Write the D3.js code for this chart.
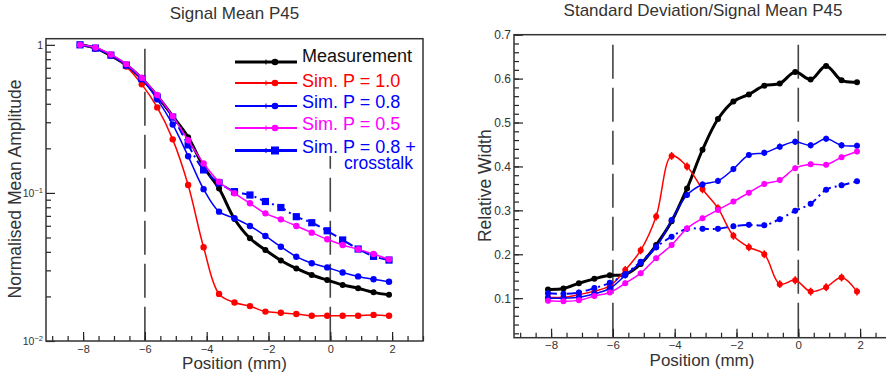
<!DOCTYPE html>
<html>
<head>
<meta charset="utf-8">
<script src="https://cdn.jsdelivr.net/npm/d3@7"></script>
<style>
  body { margin: 0; background: #fff; }
  svg { display: block; }
  text { font-family: "Liberation Sans", Arial, sans-serif; }
</style>
</head>
<body>
<div id="chart"></div>
<script>
// positions of the scan points (mm)
var positions = [-8.1, -7.6, -7.1, -6.6, -6.1, -5.6, -5.1, -4.6, -4.1, -3.6, -3.1,
                 -2.6, -2.1, -1.6, -1.1, -0.6, -0.1, 0.4, 0.9, 1.4, 1.9];

// left panel : normalised mean amplitude
var meanMeas = [1.0, 0.950, 0.846, 0.730, 0.591, 0.451, 0.330, 0.238, 0.150, 0.107, 0.0667,
                0.0494, 0.0412, 0.0350, 0.0309, 0.0279, 0.0258, 0.0239, 0.0227, 0.0213, 0.0205];
var meanP10  = [1.0, 0.943, 0.852, 0.713, 0.541, 0.378, 0.230, 0.113, 0.0430, 0.0208, 0.0182,
                0.0172, 0.0158, 0.0155, 0.0152, 0.0148, 0.0148, 0.0148, 0.0148, 0.0150, 0.0148];
var meanP08  = [1.0, 0.950, 0.852, 0.730, 0.591, 0.428, 0.290, 0.177, 0.106, 0.0747, 0.0674,
                0.0598, 0.0512, 0.0433, 0.0371, 0.0335, 0.0314, 0.0290, 0.0273, 0.0261, 0.0251];
var meanP05  = [1.0, 0.960, 0.861, 0.741, 0.599, 0.458, 0.330, 0.227, 0.158, 0.119, 0.0994,
                0.0851, 0.0728, 0.0663, 0.0598, 0.0539, 0.0486, 0.0445, 0.0416, 0.0387, 0.0356];
var meanXT   = [1.0, 0.950, 0.852, 0.730, 0.591, 0.444, 0.325, 0.211, 0.143, 0.117, 0.102,
                0.0968, 0.0875, 0.0797, 0.0691, 0.0629, 0.0555, 0.0481, 0.0418, 0.0373, 0.0352];

// right panel : standard deviation / signal mean
var rwMeas = [0.120, 0.122, 0.134, 0.144, 0.152, 0.154, 0.178, 0.221, 0.275, 0.350, 0.438,
              0.508, 0.548, 0.564, 0.584, 0.589, 0.615, 0.598, 0.629, 0.596, 0.592];
var rwP10  = [0.102, 0.102, 0.108, 0.116, 0.128, 0.164, 0.209, 0.286, 0.424, 0.400, 0.348,
              0.305, 0.242, 0.216, 0.200, 0.132, 0.141, 0.115, 0.125, 0.147, 0.115];
var rwP08  = [0.100, 0.100, 0.102, 0.110, 0.122, 0.152, 0.181, 0.216, 0.278, 0.335, 0.359,
              0.367, 0.394, 0.426, 0.431, 0.445, 0.456, 0.448, 0.463, 0.448, 0.447];
var rwP05  = [0.094, 0.093, 0.095, 0.105, 0.113, 0.134, 0.157, 0.191, 0.221, 0.259, 0.282,
              0.301, 0.320, 0.340, 0.360, 0.369, 0.396, 0.405, 0.404, 0.421, 0.434];
var rwXT   = [0.111, 0.110, 0.113, 0.123, 0.135, 0.155, 0.183, 0.216, 0.240, 0.258, 0.258,
              0.258, 0.264, 0.267, 0.266, 0.280, 0.299, 0.315, 0.347, 0.357, 0.366];
// errors on relative width (one per series: meas, P1.0, P0.8, P0.5, crosstalk)
var rwErr = [0.005, 0.009, 0.007, 0.006, 0.006];

var legendLabels = ["Measurement", "Sim. P = 1.0", "Sim. P = 0.8", "Sim. P = 0.5", "Sim. P = 0.8 +"];
var xMajor = [-8, -6, -4, -2, 0, 2];
var markerLines = [-6, 0];

// layout
var W = 886, H = 376;
var fL = { left: 46, right: 423, top: 38.7, bottom: 341 };
var fR = { left: 514, right: 891, top: 34.7, bottom: 337.7 };

var svg = d3.select("#chart").append("svg").attr("width", W).attr("height", H);

var xL = d3.scaleLinear().domain([-9.2, 3]).range([fL.left, fL.right]);
var yL = d3.scaleLog().domain([0.01, 1.1]).range([fL.bottom, fL.top]);
var xR = d3.scaleLinear().domain([-9.2, 3]).range([fR.left, fR.right]);
var yR = d3.scaleLinear().domain([0.01, 0.7]).range([fR.bottom, fR.top]);

// order: measurement, P=1.0, P=0.8, P=0.5, P=0.8+crosstalk
var styles = [
  { color: "#000000", width: 3,   r: 3,   marker: "circle", dash: null },
  { color: "#ff0000", width: 1.5, r: 3.2, marker: "circle", dash: null },
  { color: "#0000ff", width: 1.5, r: 3.2, marker: "circle", dash: null },
  { color: "#ff00ff", width: 1.5, r: 3.2, marker: "circle", dash: null },
  { color: "#0000ff", width: 2,   r: 3.6, marker: "square", dash: "9,4,2,4" }
];
var drawOrder = [0, 1, 2, 4, 3];

var fmt = function(d) { return d < 0 ? "\u2212" + (-d) : String(d); };
var minorX = d3.range(-9, 3.01, 0.5);

function styleTicks() {
  svg.selectAll(".tick line").attr("stroke", "#222").attr("stroke-width", 1.2);
}

function xAxis(x, f, fontSize, pad) {
  svg.append("g").attr("transform", "translate(0," + f.bottom + ")")
    .call(d3.axisBottom(x).tickValues(minorX).tickSize(-5).tickFormat(""))
    .call(function(g) { g.select(".domain").remove(); });
  var g = svg.append("g").attr("transform", "translate(0," + f.bottom + ")")
    .call(d3.axisBottom(x).tickValues(xMajor).tickSize(-9).tickPadding(pad).tickFormat(fmt));
  g.select(".domain").remove();
  g.selectAll("text").attr("font-size", fontSize).attr("fill", "#333").style("font-family", "Liberation Sans, Arial, sans-serif");
  styleTicks();
}

function frame(f) {
  svg.append("rect").attr("x", f.left).attr("y", f.top)
    .attr("width", f.right - f.left).attr("height", f.bottom - f.top)
    .attr("fill", "none").attr("stroke", "#333").attr("stroke-width", 1.5);
}

function vlines(x, f, top) {
  svg.selectAll(null).data(markerLines).enter().append("line")
    .attr("x1", function(d) { return x(d); }).attr("x2", function(d) { return x(d); })
    .attr("y1", top).attr("y2", f.bottom)
    .attr("stroke", "#444").attr("stroke-width", 1.6).attr("stroke-dasharray", "34,9");
}

function drawSeries(sets, x, y, errs) {
  drawOrder.forEach(function(k) {
    var vals = sets[k], st = styles[k];
    var pts = positions.map(function(p, i) { return [p, vals[i]]; });
    var line = d3.line().x(function(d) { return x(d[0]); }).y(function(d) { return y(d[1]); })
      .curve(d3.curveCatmullRom.alpha(0.5));
    var g = svg.append("g");
    g.append("path").attr("d", line(pts)).attr("fill", "none")
      .attr("stroke", st.color).attr("stroke-width", st.width)
      .attr("stroke-dasharray", st.dash);
    if (errs) {
      g.selectAll("line.err").data(pts).enter().append("line")
        .attr("x1", function(d) { return x(d[0]); }).attr("x2", function(d) { return x(d[0]); })
        .attr("y1", function(d) { return y(d[1] - errs[k]); })
        .attr("y2", function(d) { return y(d[1] + errs[k]); })
        .attr("stroke", st.color).attr("stroke-width", 1.5);
    }
    if (st.marker === "square" && !errs) {
      var s = st.r * 2;
      g.selectAll("rect").data(pts).enter().append("rect")
        .attr("x", function(d) { return x(d[0]) - s / 2; })
        .attr("y", function(d) { return y(d[1]) - s / 2; })
        .attr("width", s).attr("height", s).attr("fill", st.color);
    } else {
      g.selectAll("circle").data(pts).enter().append("circle")
        .attr("cx", function(d) { return x(d[0]); }).attr("cy", function(d) { return y(d[1]); })
        .attr("r", errs ? 3 : st.r).attr("fill", st.color);
    }
  });
}

// ---------- left panel ----------
vlines(xL, fL, 48.7);
xAxis(xL, fL, 11, 4.5);

var yMinorL = [];
[0.01, 0.1].forEach(function(dec) { for (var m = 2; m <= 9; m++) yMinorL.push(dec * m); });
svg.append("g").attr("transform", "translate(" + fL.left + ",0)")
  .call(d3.axisLeft(yL).tickValues(yMinorL).tickSize(-5).tickFormat(""))
  .call(function(g) { g.select(".domain").remove(); });
var gyL = svg.append("g").attr("transform", "translate(" + fL.left + ",0)")
  .call(d3.axisLeft(yL).tickValues([0.01, 0.1, 1]).tickSize(-9).tickFormat(""));
gyL.select(".domain").remove();
gyL.selectAll(".tick").each(function(d) {
  var t = d3.select(this).append("text").attr("x", -3).attr("dy", "0.35em")
    .attr("text-anchor", "end").attr("fill", "#333").attr("font-size", 10.5);
  if (d === 1) { t.text("1"); }
  else {
    t.append("tspan").text("10");
    t.append("tspan").attr("font-size", 7.5).attr("dy", "-0.6em").text(d === 0.1 ? "\u22121" : "\u22122");
  }
});
styleTicks();

drawSeries([meanMeas, meanP10, meanP08, meanP05, meanXT], xL, yL, null);
frame(fL);

// legend
var legend = svg.append("g");
legend.append("rect").attr("x", 232).attr("y", 41).attr("width", 184).attr("height", 115).attr("fill", "#fff");
var legRows = [62, 83, 106, 128, 150.5];
var legBase = [61.7, 86.5, 108.3, 130, 153.3];
var legStyle = [
  { color: "#000000", width: 3,   marker: "circle", r: 3.3, text: "#111" },
  { color: "#ff0000", width: 2,   marker: "circle", r: 3.3, text: "#ff0000" },
  { color: "#0000ff", width: 2,   marker: "circle", r: 3.3, text: "#0000ff" },
  { color: "#ff00ff", width: 2,   marker: "circle", r: 3.3, text: "#ff00ff" },
  { color: "#0000ff", width: 3.2, marker: "square", r: 4,   text: "#0000ff" }
];
legendLabels.forEach(function(lab, i) {
  var st = legStyle[i], yy = legRows[i];
  legend.append("line").attr("x1", 235).attr("x2", 297).attr("y1", yy).attr("y2", yy)
    .attr("stroke", st.color).attr("stroke-width", st.width);
  legend.append("line").attr("x1", 266).attr("x2", 266).attr("y1", yy - 2.5).attr("y2", yy + 2.5)
    .attr("stroke", st.color).attr("stroke-width", 1);
  if (st.marker === "square") {
    legend.append("rect").attr("x", 275 - st.r).attr("y", yy - st.r).attr("width", st.r * 2).attr("height", st.r * 2).attr("fill", st.color);
  } else {
    legend.append("circle").attr("cx", 275).attr("cy", yy).attr("r", st.r).attr("fill", st.color);
  }
  legend.append("text").attr("x", 302).attr("y", legBase[i])
    .attr("font-size", 18).attr("fill", st.text).text(lab);
});
legend.append("text").attr("x", 413).attr("y", 168.5).attr("text-anchor", "end")
  .attr("font-size", 17.5).attr("fill", "#0000ff").text("crosstalk");

// titles left
svg.append("text").attr("x", 234.5).attr("y", 19).attr("text-anchor", "middle")
  .attr("font-size", 17).attr("fill", "#333").text("Signal Mean P45");
svg.append("text").attr("x", 234.5).attr("y", 369).attr("text-anchor", "middle")
  .attr("font-size", 17).attr("fill", "#333").text("Position (mm)");
svg.append("text").attr("transform", "translate(21,189) rotate(-90)").attr("text-anchor", "middle")
  .attr("font-size", 17.5).attr("fill", "#333").text("Normalised Mean Amplitude");

// ---------- right panel ----------
vlines(xR, fR, 44.7);
xAxis(xR, fR, 11.5, 3.5);

svg.append("g").attr("transform", "translate(" + fR.left + ",0)")
  .call(d3.axisLeft(yR).tickValues(d3.range(0.02, 0.701, 0.02)).tickSize(-5).tickFormat(""))
  .call(function(g) { g.select(".domain").remove(); });
var gyR = svg.append("g").attr("transform", "translate(" + fR.left + ",0)")
  .call(d3.axisLeft(yR).tickValues([0.1, 0.2, 0.3, 0.4, 0.5, 0.6, 0.7]).tickSize(-9).tickPadding(3)
    .tickFormat(d3.format(".1f")));
gyR.select(".domain").remove();
gyR.selectAll("text").attr("font-size", 12).attr("fill", "#333").style("font-family", "Liberation Sans, Arial, sans-serif");
styleTicks();

drawSeries([rwMeas, rwP10, rwP08, rwP05, rwXT], xR, yR, rwErr);
frame(fR);

svg.append("text").attr("x", 703).attr("y", 16).attr("text-anchor", "middle")
  .attr("font-size", 17).attr("fill", "#333").text("Standard Deviation/Signal Mean P45");
svg.append("text").attr("x", 702).attr("y", 366).attr("text-anchor", "middle")
  .attr("font-size", 17).attr("fill", "#333").text("Position (mm)");
svg.append("text").attr("transform", "translate(490.5,185.7) rotate(-90)").attr("text-anchor", "middle")
  .attr("font-size", 17.5).attr("fill", "#333").text("Relative Width");
</script>
</body>
</html>
